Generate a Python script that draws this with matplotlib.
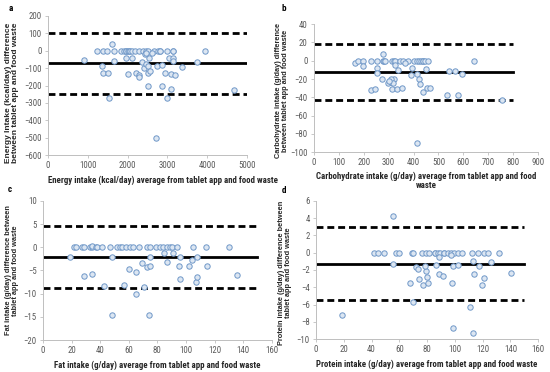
import matplotlib
matplotlib.use("Agg")
import matplotlib.pyplot as plt
from matplotlib import font_manager

# ================================
# 1. Data
# ================================
# a: energy (kcal/day)
energy_avg = [1220, 1370, 1480, 1650, 1830, 1910, 1960, 1960, 2000, 2040, 2050, 2110,
              2190, 2290, 2390, 2470, 2520, 2650, 2770, 2800, 2820, 2980, 3150, 3150, 3940,
              900, 1600, 1350, 1370, 1500, 1530, 1650, 1960, 2010, 2110, 2210, 2290,
              2280, 2370, 2420, 2450, 2500, 2520, 2500, 2540, 2560, 2720, 2730, 2850,
              2850, 2930, 3000, 3030, 3080, 3100, 3130, 3150, 3200, 3360, 3740, 4670,
              2620, 2430, 2470]
energy_diff = [0, 0, 0, 0, 0, 0, 0, 0, 0, 0, 0, 0,
               0, 0, 0, 0, 0, 0, 0, 0, 0, 0, 0, 0, 0,
               -55, 40, -88, -129, -129, -273, -60, -42, -135, -42, -125, -140,
               -150, -67, -98, -75, -90, -130, -204, -42, -115, -504, -88, -81,
               -204, -129, -273, -42, -135, -221, -42, -56, -140, -94, -65, -225,
               -12, -20, -10]
energy_lines = [105, -72, -250]       # upper limit, mean, lower limit
energy_line_x = [0, 5000]

# b: carbohydrate (g/day)
carb_avg = [165, 177, 197, 229, 253, 277, 280, 285, 313, 320, 325, 345, 357, 377, 401,
            413, 420, 430, 438, 440, 446, 458, 643,
            277, 197, 253, 253, 273, 229, 245, 297, 309, 321, 313, 333, 353, 325, 337,
            365, 393, 389, 414, 422, 426, 438, 454, 466, 450, 414, 534, 542, 566, 578,
            594, 755, 310, 318, 300]
carb_diff = [-2, 0, 0, 0, 0, 0, 0, 0, 0, 0, 0, 0, 0, 0, 0,
             0, 0, 0, 0, 0, 0, 0, 0,
             7, -5.5, -8, -13, -20, -32, -31, -24, -23, -20, -31, -31, -30, -5, -10,
             -3, -8, -16, -14, -20, -25, -34, -30, -30, -9, -90, -38, -11, -11, -37,
             -15, -43, -20, -24, -22]
carb_lines = [18, -12, -43]
carb_line_x = [0, 800]

# c: fat (g/day)
fat_avg = [22, 23, 27, 29, 33, 34, 34, 37, 38, 41, 47, 52, 54, 55, 58, 61, 63, 67, 73,
           75, 79, 82, 84, 87, 89, 90, 94, 105, 114, 130,
           19, 29, 34, 43, 48, 48, 57, 60, 65, 65, 69, 71, 73, 75, 74, 75, 85, 87, 91,
           95, 96, 96, 102, 104, 107, 108, 108, 115, 136]
fat_diff = [0, 0, 0, 0, 0, 0, 0.3, 0, 0, 0, 0, 0, 0, 0, 0, 0, 0, 0, 0,
            0, 0, 0, 0, 0, 0, 0, 0, 0, 0, 0,
            -2.2, -6.3, -5.8, -8.3, -2.2, -14.5, -8.1, -4.6, -5.4, -10, -3.5, -8.5, -4.3,
            -4.1, -14.5, -2.0, -1.3, -3.2, -1.3, -4.1, -2.0, -6.9, -4.1, -2.8, -7.4,
            -6.5, -2.0, -4.1, -6.0]
fat_lines = [4.5, -2.2, -8.8]
fat_line_x = [0, 150]

# d: protein (g/day)
prot_avg = [42, 44.5, 49.2, 57.7, 59.6, 69, 70, 76.4, 79.3, 81.7, 86, 86, 87.7, 89.4,
            92, 92.5, 94.9, 97.3, 99.7, 102, 105, 112.4, 116.5, 121.3, 123.7, 131.7,
            55.3, 55.3, 18.7, 72, 73.3, 67.8, 74, 77.4, 79.3, 79.8, 81, 78.8, 70, 86.5,
            88.9, 91.3, 88.4, 97.3, 98.5, 102, 98, 98.5, 113, 114, 117.7, 121.3, 119.4,
            111, 113, 126, 140.5]
prot_diff = [0, 0, 0, 0, 0, 0, 0, 0, 0, 0, 0, 0, 0, 0,
             0, 0, 0, 0, 0, 0, 0, 0, 0, 0, 0, 0,
             4.28, -1.35, -7.2, -1.7, -1.9, -3.5, -3.0, -3.7, -2.1, -2.8, -3.5, -1.5, -5.7,
             -1.4, -2.5, -2.7, -0.5, -0.3, -1.5, -1.4, -3.5, -8.7, -0.9, -2.5, -1.5, -2.9,
             -3.7, -6.3, -9.3, -1.1, -2.3]
prot_lines = [3.0, -1.3, -5.5]
prot_line_x = [0, 150]

# ================================
# 2. Fonts: the original is horizontally squeezed, so narrow text for
#    horizontal labels and normal width for the rotated ones
# ================================
names = {f.name for f in font_manager.fontManager.ttflist}
narrow = "Lato"
for cand in ["Liberation Sans Narrow", "Roboto Condensed", "Lato"]:
    if cand in names:
        narrow = cand
        break
plt.rcParams['font.family'] = [narrow, 'DejaVu Sans']
WIDE = ['Liberation Sans', 'DejaVu Sans']

TICK_COL = '#595959'
AXIS_COL = '#bfbfbf'


def panel(rect, x, y, lines, line_x, xlim, xstep, ylim, ystep, xlabel, ylabel,
          xlab_pos, ylab_pos, ylab_size):
    ax = fig.add_axes(rect)
    upper, mean, lower = lines
    ax.plot(line_x, [upper, upper], color='black', lw=2, ls=(0, (2.5, 1.4)), zorder=2)
    ax.plot(line_x, [lower, lower], color='black', lw=2, ls=(0, (2.5, 1.4)), zorder=2)
    ax.plot(line_x, [mean, mean], color='black', lw=2, zorder=2)
    ax.scatter(x, y, s=15, facecolor='#dce6f2', edgecolor='#7098c8', linewidth=0.7,
               zorder=3)
    ax.set_xlim(*xlim)
    ax.set_ylim(*ylim)
    ax.set_xticks(range(xlim[0], xlim[1] + 1, xstep))
    ax.set_yticks(range(ylim[0], ylim[1] + 1, ystep))
    for s in ['top', 'right']:
        ax.spines[s].set_visible(False)
    for s in ['left', 'bottom']:
        ax.spines[s].set_color(AXIS_COL)
        ax.spines[s].set_linewidth(0.7)
    ax.tick_params(labelsize=6.3, labelcolor=TICK_COL, color=AXIS_COL, length=2.5,
                   width=0.6, pad=2)
    ax.set_xlabel(xlabel, fontsize=6.4, fontweight='bold', linespacing=1.0,
                  color='#262626')
    ax.xaxis.set_label_coords(*xlab_pos)
    ax.set_ylabel(ylabel, fontsize=ylab_size, fontweight='bold', linespacing=1.0,
                  family=WIDE, color='#262626')
    ax.yaxis.set_label_coords(*ylab_pos)
    return ax


fig = plt.figure(figsize=(5.5, 3.72), dpi=100)

panel([0.0873, 0.583, 0.362, 0.374], energy_avg, energy_diff, energy_lines, energy_line_x,
      (0, 5000), 1000, (-600, 200), 100,
      "Energy intake (kcal/day) average from tablet app and food waste",
      "Energy Intake (kcal/day) difference\nbetween tablet app and food waste",
      (0.58, -0.15), (-0.146, 0.45), 6.0)
panel([0.571, 0.591, 0.407, 0.344], carb_avg, carb_diff, carb_lines, carb_line_x,
      (0, 900), 100, (-100, 40), 20,
      "Carbohydrate intake (g/day) average from tablet app and food\nwaste",
      "Carbohydrate intake (g/day) difference\nbetween tablet app and food waste",
      (0.5, -0.155), (-0.112, 0.48), 5.3)
panel([0.078, 0.086, 0.416, 0.374], fat_avg, fat_diff, fat_lines, fat_line_x,
      (0, 160), 20, (-20, 10), 5,
      "Fat intake (g/day) average from tablet app and food waste",
      "Fat intake (g/day) difference between\ntablet app and food waste",
      (0.5, -0.15), (-0.105, 0.5), 5.3)
panel([0.5745, 0.0887, 0.404, 0.371], prot_avg, prot_diff, prot_lines, prot_line_x,
      (0, 160), 20, (-10, 6), 2,
      "Protein intake (g/day) average from tablet app and food waste",
      "Protein intake (g/day) difference between\ntablet app and food waste",
      (0.5, -0.152), (-0.108, 0.48), 5.3)

for tag, xy in zip("abcd", [(0.016, 0.99), (0.512, 0.99), (0.014, 0.503), (0.512, 0.5)]):
    fig.text(xy[0], xy[1], tag, fontsize=6.5, fontweight='bold', va='top', ha='left')

fig.savefig("out.png", dpi=100)
